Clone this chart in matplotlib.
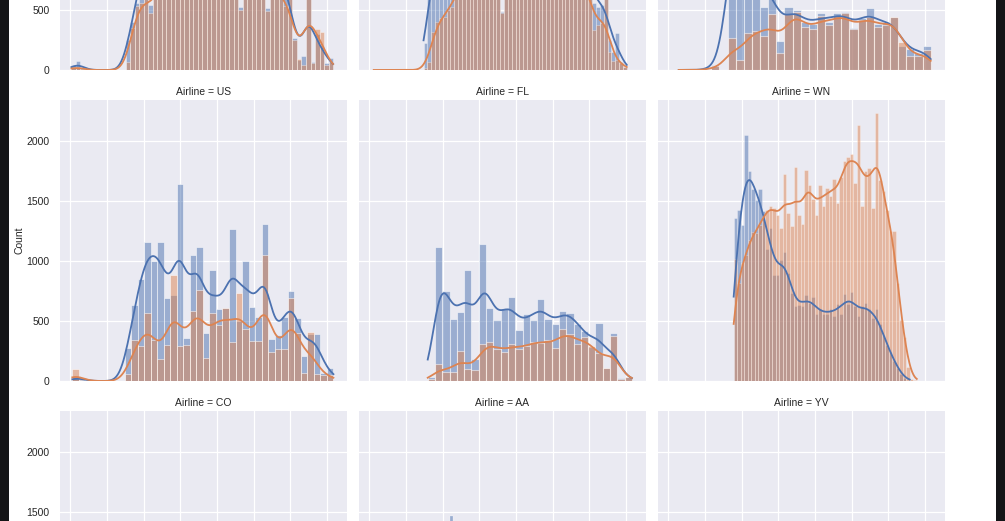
import numpy as np
import matplotlib
matplotlib.use("Agg")
import matplotlib.pyplot as plt
from matplotlib.patches import Rectangle

plt.rcParams['font.family'] = ['Liberation Sans', 'DejaVu Sans']

# ---------------- data (Count of flights by Time, hue = Delay 0 / 1) ----------------
x_ticks = [0, 200, 400, 600, 800, 1000, 1200, 1400]
y_ticks = [0, 500, 1000, 1500, 2000]
delay_levels = [0, 1]

# top row (titles out of view) -------------------------------------------
tl_range = (5, 1434)
tl_blue = [40, 75, 20, 0, 0, 0, 0, 0, 0, 0, 0, 0, 250, 403, 560,
           900, 1000, 541, 1050, 1100, 1000, 1150, 1050, 1200, 1100, 1000, 1150, 1080, 1120, 1050,
           1000, 1100, 1050, 980, 1020, 1060, 1000, 520, 950, 1000, 980, 940, 900, 514, 880,
           900, 820, 600, 650, 264, 83, 120, 900, 69, 300, 200, 60, 97]
tl_orange = [28, 28, 10, 0, 0, 0, 0, 0, 0, 0, 0, 0, 69, 347, 533,
             560, 600, 478, 620, 680, 700, 800, 760, 820, 780, 760, 800, 790, 820, 800,
             780, 820, 790, 760, 800, 780, 760, 500, 740, 760, 750, 720, 700, 490, 690,
             680, 640, 530, 620, 250, 90, 42, 1000, 56, 339, 319, 42, 69]

tm_range = (23, 1405)
tm_blue = [0, 0, 0, 0, 0, 0, 0, 0, 0, 0, 0, 0, 0,
           222, 700, 850, 950, 1000, 1050, 1000, 1100,
           1100, 1150, 1200, 1180, 1250, 1200, 1150, 1220, 1180, 1200, 1150, 1180, 486, 1200, 1150,
           1100, 1180, 1120, 1100, 1150, 1080, 1100, 1050, 1100, 1020, 1050, 1000, 1020, 980, 950,
           1000, 920, 900, 880, 850,
           750, 560, 520, 540, 700, 250, 153, 305, 69, 28]
tm_orange = [1, 0, 0, 0, 0, 0, 0, 0, 0, 0, 0, 0, 0,
             14, 69, 319, 403, 431, 444, 500, 528,
             650, 700, 720, 700, 750, 760, 740, 780, 760, 770, 750, 780, 470, 790, 780,
             760, 800, 780, 770, 800, 790, 780, 800, 780, 790, 800, 780, 800, 790, 780,
             800, 760, 760, 720, 700,
             650, 333, 375, 389, 620, 153, 75, 80, 60, 28]

tr_range = (56, 1432)
tr_blue = [2, 0, 0, 0, 42, 0,
           1400, 1300, 1100, 900, 522, 800, 244, 528, 500, 400, 380, 470, 400, 470,
           480, 353, 430, 514, 380, 400, 440, 200, 172, 139, 200]
tr_orange = [2, 0, 0, 0, 30, 0,
             264, 83, 305, 328, 283, 467, 139, 467, 486, 361, 339, 450, 375, 450,
             472, 339, 417, 444, 361, 375, 444, 236, 117, 117, 167]

# middle row ---------------------------------------------------------------
us_range = (10, 1436)
us_blue = [36, 18, 0, 0, 0, 0, 0, 0, 272, 633, 847, 1156, 1000, 1156, 694, 716, 1642, 361, 1050, 1111,
           403, 919, 597, 611, 1264, 500, 994, 619, 536, 1306, 347, 383, 536, 750, 522, 210, 390, 392, 64, 111]
us_orange = [97, 6, 0, 0, 0, 0, 0, 0, 55, 342, 294, 564, 342, 180, 300, 883, 292, 300, 583, 753,
             189, 564, 467, 611, 328, 730, 430, 336, 336, 1050, 244, 267, 267, 694, 397, 64, 411, 58, 50, 50]

fl_range = (318, 1433)
fl_blue = [30, 1111, 750, 517, 572, 925, 180, 1139, 611, 508, 597, 697, 425, 558, 508, 681, 514, 475,
           586, 569, 475, 419, 286, 486, 106, 397, 22, 36]
fl_orange = [14, 139, 78, 78, 250, 97, 90, 308, 328, 264, 244, 308, 264, 292, 328, 314, 342, 278,
             433, 392, 308, 369, 292, 236, 111, 375, 14, 36]

wn_range = (356, 1356)
wn_blue = [1356, 1425, 1300, 2050, 1750, 1600, 1503, 1597, 1411, 1100, 1272, 883, 878, 1008, 1069, 897,
           736, 625, 633, 625, 717, 650, 700, 560, 600, 560, 560, 600, 540, 640, 560, 720, 640, 740,
           620, 540, 620, 650, 600, 520, 600, 470, 380, 300, 240, 170, 110, 60, 22, 4, 0, 0]
wn_orange = [1017, 814, 981, 1050, 1175, 1236, 1231, 1300, 1380, 1425, 1458, 1440, 1383, 1272, 1725, 1400,
             1286, 1781, 1383, 1306, 1753, 1633, 1514, 1383, 1633, 1458, 1606, 1536, 1681, 1481, 1700,
             1828, 1864, 1892, 1647, 2133, 1458, 1744, 1772, 1439, 2225, 1675, 1578, 1420, 1250, 1244,
             814, 508, 369, 120, 20, 6]

# bottom row (only the tallest bar is in view) ----------------------------
co_range, co_blue, co_orange = None, [], []
aa_range = (440, 456)
aa_blue = [1467]
aa_orange = [0]
yv_range, yv_blue, yv_orange = None, [], []

panels = [
    # (row, col, title, range, blue, orange, kde)
    (0, 0, None, tl_range, tl_blue, tl_orange, True),
    (0, 1, None, tm_range, tm_blue, tm_orange, True),
    (0, 2, None, tr_range, tr_blue, tr_orange, True),
    (1, 0, "Airline = US", us_range, us_blue, us_orange, True),
    (1, 1, "Airline = FL", fl_range, fl_blue, fl_orange, True),
    (1, 2, "Airline = WN", wn_range, wn_blue, wn_orange, True),
    (2, 0, "Airline = CO", co_range, co_blue, co_orange, False),
    (2, 1, "Airline = AA", aa_range, aa_blue, aa_orange, False),
    (2, 2, "Airline = YV", yv_range, yv_blue, yv_orange, False),
]

# y tick labels that fall inside the visible window of each row
visible_ylabels = {0: {0, 500}, 1: set(y_ticks), 2: {1500, 2000}}

# ---------------- styling ----------------
BLUE = '#4C72B0'
ORANGE = '#DD8452'
TXT = '#262626'
W, H = 1005, 521
col_left = [59.5, 358.5, 657.5]
ax_w = 287.3
row_top = [-211, 100, 411]
ax_h = 281


def kde_curve(edges, counts):
    counts = np.asarray(counts, float)
    centers = (edges[:-1] + edges[1:]) / 2
    nz = np.nonzero(counts)[0]
    lo, hi = edges[nz[0]], edges[nz[-1] + 1]
    n = counts.sum()
    mean = np.sum(counts * centers) / n
    std = np.sqrt(np.sum(counts * (centers - mean) ** 2) / n)
    bw = std * n ** (-0.2)
    xs = np.linspace(lo, hi, 200)
    dens = (counts[None, :] * np.exp(-0.5 * ((xs[:, None] - centers[None, :]) / bw) ** 2)).sum(1)
    dens /= bw * np.sqrt(2 * np.pi)
    return xs, dens * (edges[1] - edges[0])


fig = plt.figure(figsize=(W / 100, H / 100), dpi=100, facecolor='#141517')
fig.add_artist(Rectangle((9 / W, 0), (996 - 9) / W, 1, transform=fig.transFigure,
                         facecolor='white', edgecolor='none', zorder=-5))

for row, col, title, rng, blue, orange, with_kde in panels:
    left = col_left[col] / W
    bottom = (H - row_top[row] - ax_h) / H
    ax = fig.add_axes([left, bottom, ax_w / W, ax_h / H])
    ax.set_facecolor('#EAEAF2')
    for s in ax.spines.values():
        s.set_visible(False)
    ax.set_axisbelow(True)
    ax.grid(True, color='white', linewidth=0.9)
    ax.set_xlim(-60, 1509)
    ax.set_ylim(0, 2337)
    ax.set_xticks(x_ticks)
    ax.set_yticks(y_ticks)
    ax.tick_params(length=0, labelsize=7.5, labelcolor=TXT, pad=7)
    ax.set_xticklabels([])
    if col == 0:
        ax.set_yticklabels([str(t) if t in visible_ylabels[row] else '' for t in y_ticks])
    else:
        ax.set_yticklabels([])
    if title:
        ax.set_title(title, fontsize=7.5, color=TXT, pad=3.5)
    if row == 1 and col == 0:
        ax.set_ylabel("Count", fontsize=7.5, color=TXT)
        ax.yaxis.set_label_coords(-0.122, 0.5)

    if rng is None:
        continue
    nb = len(blue)
    edges = np.linspace(rng[0], rng[1], nb + 1)
    bwidth = edges[1] - edges[0]
    bin_pts = bwidth * (ax_w / 1569) / 1.389
    lw = min(0.15 * bin_pts, 0.8)
    # Delay = 0 (blue) first, Delay = 1 (orange) layered on top
    for counts, color in ((blue, BLUE), (orange, ORANGE)):
        counts = np.asarray(counts, float)
        m = counts > 0
        ax.bar(edges[:-1][m], counts[m], width=bwidth, align='edge', color=color,
               alpha=0.5, edgecolor='white', linewidth=lw)
        if with_kde and counts.sum() > 0:
            xs, ys = kde_curve(edges, counts)
            ax.plot(xs, ys, color=color, linewidth=1.3)

fig.savefig('out.png', dpi=100, facecolor=fig.get_facecolor())
